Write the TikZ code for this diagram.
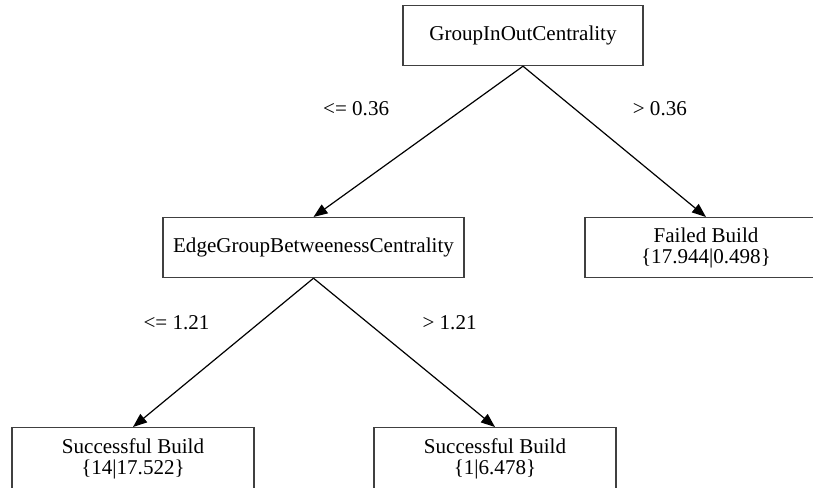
\documentclass[tikz,border=0pt]{standalone}
\usepackage{fontspec}
\setmainfont{Liberation Serif}
\usetikzlibrary{arrows.meta}

\begin{document}
\begin{tikzpicture}[
  x=0.75pt, y=-0.75pt,
  box/.style={draw=black!75, line width=0.9pt, align=center, inner sep=0pt,
              font=\fontsize{15.8}{15.8}\selectfont, minimum height=45pt, anchor=north},
  splitbox/.style={box, minimum width=180pt},
  leafbox/.style={box, minimum width=181.5pt},
  lbl/.style={font=\fontsize{15.8}{15.8}\selectfont, inner sep=0pt},
  arr/.style={-{Triangle[length=10.5pt, width=8pt]}, line width=0.9pt}
]
\useasboundingbox (0,0) rectangle (813,487);

\node[splitbox] (root) at (523,5) {GroupInOutCentrality};
\node[splitbox, minimum width=225.75pt] (edge) at (313.5,217) {EdgeGroupBetweenessCentrality};
\node[leafbox] (failed) at (706,217) {Failed Build\\\{17.944|0.498\}};
\node[leafbox, minimum height=47pt] (succl) at (133,427) {Successful Build\\\{14|17.522\}};
\node[leafbox, minimum height=47pt] (succr) at (495,427) {Successful Build\\\{1|6.478\}};

\draw[arr] (root.south) -- node[lbl, pos=0.28, left=56pt] {<= 0.36} (edge.north);
\draw[arr] (root.south) -- node[lbl, pos=0.28, right=43.5pt] {> 0.36} (failed.north);
\draw[arr] (edge.south) -- node[lbl, pos=0.3, left=37pt] {<= 1.21} (succl.north);
\draw[arr] (edge.south) -- node[lbl, pos=0.3, right=40.5pt] {> 1.21} (succr.north);
\end{tikzpicture}
\end{document}
